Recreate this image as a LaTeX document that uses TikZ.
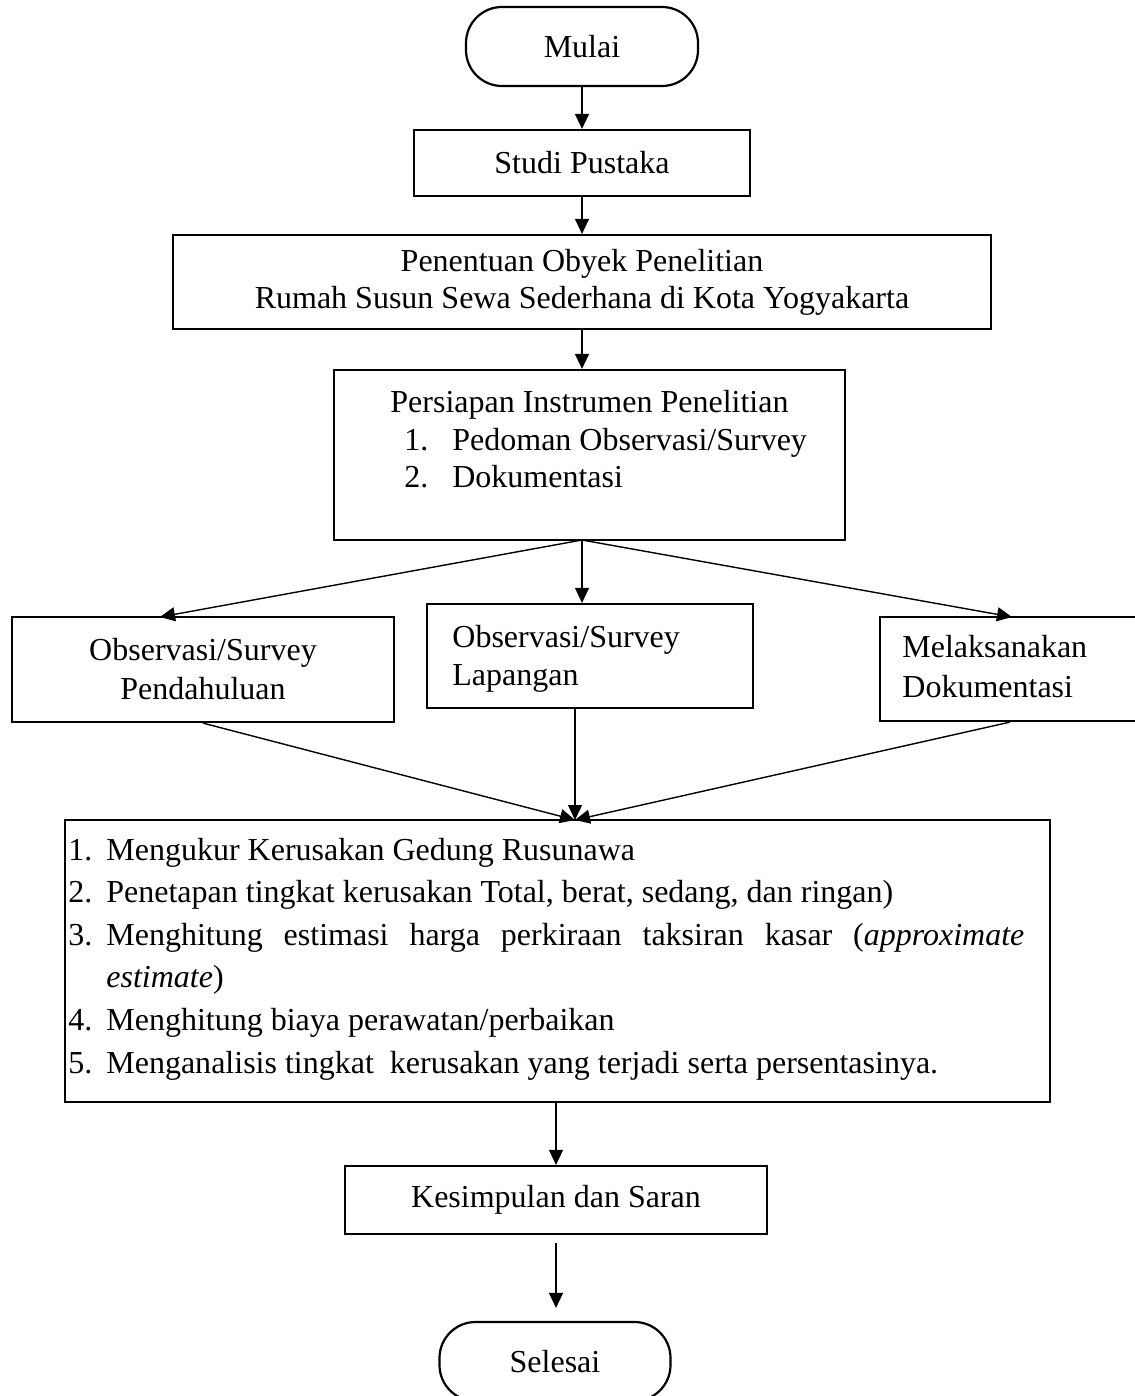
\documentclass[tikz,border=0pt]{standalone}
\usepackage{fontspec}
\setmainfont{Liberation Serif}
\usetikzlibrary{arrows.meta}

\tikzset{
  kotak/.style={draw, line width=1.1pt, inner sep=0pt, align=center},
  terminal/.style={kotak, rounded corners=18pt},
  panah/.style={-{Triangle[width=7pt,length=7.5pt]}, line width=0.7pt},
  teks/.style={inner sep=0pt, align=left},
  butir/.style={inner sep=0pt, anchor=base west},
}

\begin{document}
\begin{tikzpicture}[x=0.5pt,y=-0.5pt,font=\fontsize{16}{19}\selectfont]
        \useasboundingbox (0,0) rectangle (1134,1396);

        % kolom atas
        \node[terminal, minimum width=116pt, minimum height=39.5pt] (mulai) at (582,46.5) {Mulai};
        \node[kotak, minimum width=168pt, minimum height=33pt] (studi) at (582,163) {Studi Pustaka};
        \node[kotak, minimum width=409pt, minimum height=47pt,
              font=\fontsize{16}{18.5}\selectfont] (penentuan) at (582,282)
              {Penentuan Obyek Penelitian\\Rumah Susun Sewa Sederhana di Kota Yogyakarta};

        \node[kotak, minimum width=255.5pt, minimum height=85pt] (persiapan) at (589.5,455) {};
        \node[teks, anchor=north west, font=\fontsize{16}{18.75}\selectfont] (persiapanteks) at (390,390)
              {Persiapan Instrumen Penelitian\\
               \hspace*{7pt}\makebox[24pt][l]{1.}Pedoman Observasi/Survey\\
               \hspace*{7pt}\makebox[24pt][l]{2.}Dokumentasi};

        \draw[panah] (mulai.south) -- (studi.north);
        \draw[panah] (studi.south) -- (penentuan.north);
        \draw[panah] (penentuan.south) -- (penentuan.south |- persiapan.north);

        % tiga cabang
        \node[kotak, minimum width=191pt, minimum height=52.5pt,
              font=\fontsize{16}{19.5}\selectfont] (pendahuluan) at (203,669.5)
              {Observasi/Survey\\Pendahuluan};
        \node[kotak, minimum width=163pt, minimum height=52pt] (lapangan) at (590,656) {};
        \node[teks, anchor=north west] (lapanganteks) at (452,625) {Observasi/Survey\\Lapangan};
        \node[kotak, minimum width=130pt, minimum height=52pt] (dokumentasi) at (1010,669) {};
        \node[teks, anchor=north west, font=\fontsize{16}{20}\selectfont] (dokumentasiteks) at (902,635)
              {Melaksanakan\\Dokumentasi};

        \coordinate (pisah) at (582,540);
        \coordinate (kiri) at (160,617);
        \coordinate (kanan) at (1012,617);
        \draw[panah] (pisah) -- (kiri);
        \draw[panah] (pisah) -- (pisah |- lapangan.north);
        \draw[panah] (pisah) -- (kanan);

        % analisis
        \node[kotak, minimum width=492.5pt, minimum height=141pt] (analisis) at (557.5,961) {};
        \coordinate (temu) at (575,820);
        \draw[panah] (pendahuluan.south) -- (temu);
        \draw[panah] (lapangan.south -| temu) -- (temu);
        \draw[panah] (dokumentasi.south) -- (temu);

        \node[butir] (butir1) at (68,860) {\makebox[19pt][l]{1.}Mengukur Kerusakan Gedung Rusunawa};
        \node[butir] (butir2) at (68,902) {\makebox[19pt][l]{2.}Penetapan tingkat kerusakan Total, berat, sedang, dan ringan)};
        \node[butir] (butir3) at (68,945) {\makebox[19pt][l]{3.}\makebox[459pt][s]{Menghitung estimasi harga perkiraan taksiran kasar (\textit{approximate}}};
        \node[butir] (butir3b) at (106,987) {\textit{estimate})};
        \node[butir] (butir4) at (68,1030) {\makebox[19pt][l]{4.}Menghitung biaya perawatan/perbaikan};
        \node[butir] (butir5) at (68,1073) {\makebox[19pt][l]{5.}Menganalisis tingkat\ \ kerusakan yang terjadi serta persentasinya.};

        % akhir
        \node[kotak, minimum width=211pt, minimum height=34pt] (kesimpulan) at (556,1200) {Kesimpulan dan Saran};
        \node[terminal, minimum width=115.5pt, minimum height=39.5pt] (selesai) at (555,1361.5) {Selesai};

        \draw[panah] (analisis.south -| kesimpulan.north) -- (kesimpulan.north);
        \draw[panah, shorten <=4pt, shorten >=6.5pt] (kesimpulan.south) -- (kesimpulan.south |- selesai.north);
\end{tikzpicture}
\end{document}
